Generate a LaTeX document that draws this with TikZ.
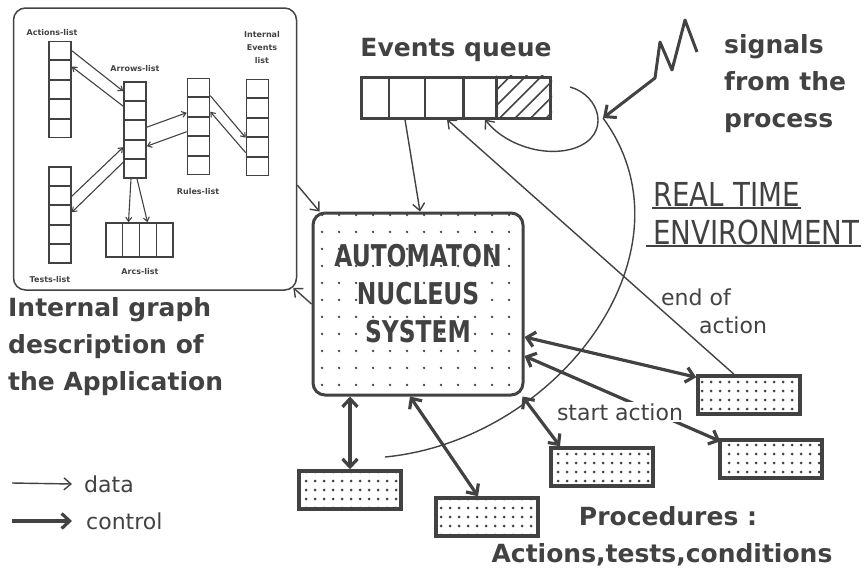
\documentclass[tikz,border=0pt]{standalone}
\usepackage{fontspec}
\setmainfont{DejaVu Sans}
\usetikzlibrary{positioning,arrows.meta,patterns.meta,calc}
\definecolor{scanink}{RGB}{66,66,66}
\tikzset{
  datarrow/.style={line width=1.4pt,-{Straight Barb[length=7pt,width=12pt]}},
  ctrlarrow/.style={line width=3.2pt,{Straight Barb[length=8pt,width=15pt]}-{Straight Barb[length=8pt,width=15pt]}},
  pairline/.style={line width=1.1pt},
  pairhead/.style={pairline,-{Straight Barb[length=4pt,width=6pt]}},
  listcol/.style={draw,line width=1.6pt,minimum width=22pt,minimum height=96pt},
  procbox/.style={draw,line width=3.5pt,minimum width=102pt,minimum height=38pt,pattern={Dots[distance=9pt,radius=1.5pt]},pattern color=scanink},
  tinylbl/.style={font=\fontsize{8}{9}\selectfont\bfseries},
  boldlbl/.style={font=\fontsize{25}{37}\selectfont\bfseries},
  plainlbl/.style={font=\fontsize{22}{28}\selectfont},
}
\begin{document}
\begin{tikzpicture}[x=1pt,y=-1pt,color=scanink,every node/.style={inner sep=0pt}]
\useasboundingbox (0,0) rectangle (864,571);
% internal graph of the application
\node[draw,rounded corners=12pt,line width=1.5pt,minimum width=283pt,minimum height=282pt] (graph) at (155,149) {};
\node[listcol] (actlist) at (60,89.5) {};
\node[listcol] (arrlist) at (135,130) {};
\node[listcol] (rullist) at (198.5,126.5) {};
\node[listcol] (evtlist) at (257.5,127.5) {};
\node[listcol] (tstlist) at (60,215) {};
\node[draw,line width=1.6pt,minimum width=67pt,minimum height=34pt] (arclist) at (139.5,240) {};
\foreach \col in {actlist,arrlist,rullist,evtlist,tstlist}
  \foreach \k in {1,...,4}
    \draw[line width=1.6pt] ($(\col.north west)!\k/5!(\col.south west)$) -- ($(\col.north east)!\k/5!(\col.south east)$);
\foreach \k in {1,2,3}
  \draw[line width=1.6pt] ($(arclist.north west)!\k/4!(arclist.north east)$) -- ($(arclist.south west)!\k/4!(arclist.south east)$);
\node[tinylbl] at (52,33) {Actions-list};
\node[tinylbl] at (135,69) {Arrows-list};
\node[tinylbl] at (198,192) {Rules-list};
\node[tinylbl,align=center] at (262,48) {Internal\\[4pt]Events\\[4pt]list};
\node[tinylbl] at (50,280) {Tests-list};
\node[tinylbl] at (140,272) {Arcs-list};
\draw[pairhead] ([yshift=-10pt]actlist.north east) -- ([yshift=-10pt]arrlist.north west);
\draw[pairhead] ([yshift=-25pt]arrlist.north west) -- ([yshift=-26pt]actlist.north east);
\draw[pairhead] ([yshift=-46pt]arrlist.north east) -- ([yshift=-35pt]rullist.north west);
\draw[pairhead] ([yshift=-54pt]rullist.north west) -- ([yshift=-65pt]arrlist.north east);
\draw[pairhead] ([yshift=-18pt]rullist.north east) -- ([yshift=-59pt]evtlist.north west);
\draw[pairhead] ([yshift=-74pt]evtlist.north west) -- ([yshift=-34pt]rullist.north east);
\draw[pairhead] ([yshift=-30pt]tstlist.north east) -- ([yshift=-66pt]arrlist.north west);
\draw[pairhead] ([yshift=-81pt]arrlist.north west) -- ([yshift=-46pt]tstlist.north east);
\draw[pairhead] ([xshift=-4pt]arrlist.south) -- ([xshift=-11pt]arclist.north);
\draw[pairhead] ([xshift=2pt]arrlist.south) -- ([xshift=8pt]arclist.north);
\node[boldlbl,anchor=north west,align=left] (graphlbl) at (8,297) {Internal graph\\description of\\the Application};
% events queue
\node[draw,line width=3pt,minimum width=189pt,minimum height=41pt] (queue) at (456,97.5) {};
\fill[pattern={Lines[angle=45,distance=11pt,line width=1.6pt]},pattern color=scanink] ($(queue.north west)!0.71!(queue.north east)$) rectangle (queue.south east);
\foreach \f in {0.15,0.34,0.54,0.71}
  \draw[line width=2.4pt] ($(queue.north west)!\f!(queue.north east)$) -- ($(queue.south west)!\f!(queue.south east)$);
\node[boldlbl,above=14pt of queue] (queuelbl) {Events queue};
% automaton nucleus
\node[draw,rounded corners=12pt,line width=3pt,minimum width=210pt,minimum height=182pt,pattern={Dots[distance=17pt,radius=1.4pt]},pattern color=scanink] (nucleus) at (418,304) {};
\node[font=\fontsize{30}{38}\selectfont\bfseries] at ([yshift=7pt]nucleus.center) {\scalebox{0.78}[1]{\begin{tabular}{@{}c@{}}AUTOMATON\\NUCLEUS\\SYSTEM\end{tabular}}};
% procedures
\node[procbox] (proc1) at (350,490) {};
\node[procbox] (proc2) at (487,517) {};
\node[procbox] (proc3) at (602,467) {};
\node[procbox] (proc4) at (749,395) {};
\node[procbox] (proc5) at (771,459) {};
% signals from the process
\coordinate (sigtip) at (603,118);
\coordinate (arcfoot) at (385,457);
\coordinate (hookstart) at (570,87);
\draw[line width=3pt,line join=round,-{Straight Barb[length=9pt,width=16pt]}] (697,52) -- (685,20) -- (672,70) -- (660,42) -- (655,78) -- (sigtip);
\draw[line width=1.4pt] (arcfoot) .. controls (560,440) and (700,250) .. (sigtip);
\draw[datarrow] (hookstart) .. controls (600,95) and (612,135) .. (575,148) .. controls (545,158) and (505,145) .. ([xshift=29pt]queue.south);
\node[boldlbl,anchor=west,align=left] (siglbl) at (724,84) {signals\\from the\\process};
% data flows
\draw[datarrow] ([xshift=-51pt]queue.south) -- ([xshift=2pt]nucleus.north);
\draw[datarrow] ([yshift=-36pt]graph.east) -- ([xshift=8pt]nucleus.north west);
\draw[datarrow] (nucleus.west) -- ([xshift=-4pt,yshift=3pt]graph.south east);
\draw[datarrow] ([xshift=-15pt]proc4.north) -- ([xshift=-9pt]queue.south);
% control flows
\draw[ctrlarrow] (nucleus.south -| proc1.north) -- (proc1.north);
\draw[ctrlarrow] ([xshift=-8pt]nucleus.south) -- ([xshift=-9pt]proc2.north);
\draw[ctrlarrow] ([xshift=-2pt]nucleus.south east) -- ([xshift=-42pt]proc3.north);
\draw[ctrlarrow] ([yshift=-33pt]nucleus.east) -- ([yshift=-3pt]proc4.north west);
\draw[ctrlarrow] ([yshift=-52pt]nucleus.east) -- ([xshift=2pt,yshift=-3pt]proc5.north west);
\node[plainlbl,fill=white,inner sep=1pt] (startlbl) at (620,412) {start action};
\node[plainlbl,anchor=west,align=left] (endlbl) at (661,311) {end of\\\hspace*{38pt}action};
% real time environment
\node[font=\fontsize{33}{40}\selectfont,anchor=south west,inner sep=1pt] (rtlbl) at (652,208) {\scalebox{0.84}[1]{REAL TIME}};
\node[font=\fontsize{33}{40}\selectfont,anchor=south west,inner sep=1pt] (envlbl) at (652,246) {\scalebox{0.84}[1]{ENVIRONMENT}};
\draw[line width=2.2pt] (rtlbl.south west) -- (rtlbl.south east);
\draw[line width=2.2pt] ([xshift=-6pt]envlbl.south west) -- (envlbl.south east);
% procedures label
\node[boldlbl,align=center] (proclbl) at (662,536) {\hspace*{12pt}Procedures :\\Actions,tests,conditions};
% legend
\node[plainlbl,anchor=west] (datalbl) at (84,484) {data};
\node[plainlbl,anchor=west] (ctrllbl) at (86,521) {control};
\coordinate (datafoot) at (12,483);
\coordinate (ctrlfoot) at (12,521);
\draw[datarrow] (datafoot) -- ([xshift=-12pt]datalbl.west);
\draw[line width=3.2pt,-{Straight Barb[length=8pt,width=15pt]}] (ctrlfoot) -- ([xshift=-14pt]ctrllbl.west);
\end{tikzpicture}
\end{document}
